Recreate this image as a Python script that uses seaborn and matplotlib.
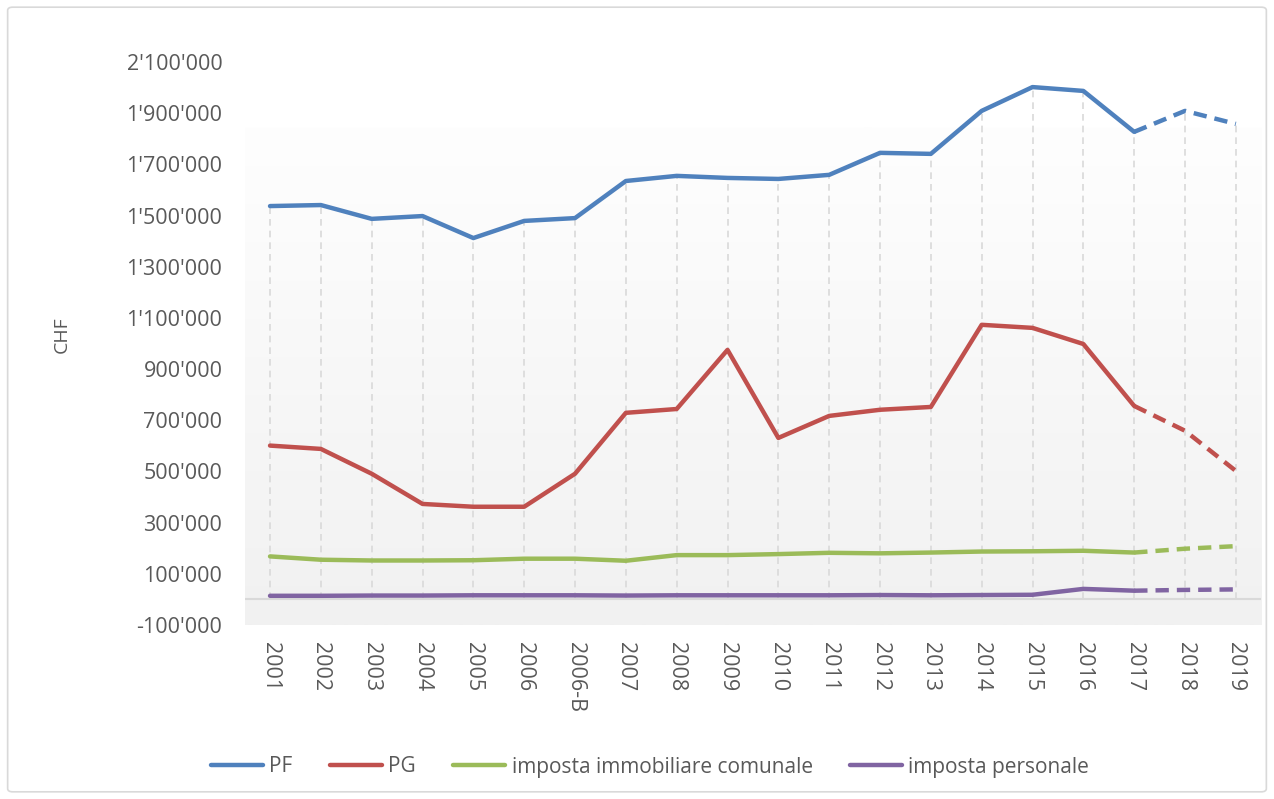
import numpy as np
import pandas as pd
import matplotlib
matplotlib.use('Agg')
import matplotlib.pyplot as plt
import seaborn as sns
from matplotlib.colors import LinearSegmentedColormap
from matplotlib.lines import Line2D
from matplotlib.patches import FancyBboxPatch

# Dati (CHF)
anni = ['2001', '2002', '2003', '2004', '2005', '2006', '2006-B', '2007', '2008', '2009',
        '2010', '2011', '2012', '2013', '2014', '2015', '2016', '2017', '2018', '2019']
pf = [1537000, 1541000, 1487000, 1498000, 1412000, 1479000, 1490000, 1635000, 1655000, 1647000,
      1643000, 1659000, 1745000, 1741000, 1909000, 2002000, 1987000, 1827000, 1909000, 1858000]
pg = [601000, 588000, 491000, 373000, 362000, 362000, 491000, 729000, 744000, 975000,
      631000, 717000, 741000, 752000, 1073000, 1061000, 998000, 756000, 659000, 502000]
imm_comunale = [168000, 155000, 152000, 152000, 153000, 159000, 159000, 151000, 173000, 173000,
                177000, 182000, 180000, 183000, 187000, 188000, 190000, 183000, 198000, 208000]
imp_personale = [14000, 14000, 15000, 15000, 16000, 16000, 16000, 15000, 16000, 16000,
                 16000, 16000, 17000, 16000, 17000, 18000, 41000, 34000, 37000, 39000]

serie = ['PF', 'PG', 'imposta immobiliare comunale', 'imposta personale']
colori = ['#4F81BD', '#C0504D', '#9BBB59', '#8064A2']
ultimo_consuntivo = anni.index('2017')

sns.set_style('white')
plt.rcParams['font.family'] = ['Open Sans', 'DejaVu Sans']

df = pd.DataFrame({'x': np.arange(len(anni)), 'PF': pf, 'PG': pg,
                   'imposta immobiliare comunale': imm_comunale,
                   'imposta personale': imp_personale})

fig = plt.figure(figsize=(12.74, 7.99), dpi=100)
ax = fig.add_axes([0.192, 0.2178, 0.798, 0.7046])

# sfondo a gradiente (area del grafico)
cmap = LinearSegmentedColormap.from_list('grad', ['#fefefe', '#f1f1f1'])
ax.imshow(np.linspace(0, 1, 256).reshape(-1, 1), cmap=cmap, aspect='auto',
          extent=(-0.5, len(anni) - 0.5, -100000, 1846000), zorder=0)

# linee di proiezione
ax.vlines(df['x'], 0, df[['PF', 'PG']].max(axis=1), colors='#d9d9d9',
          linestyles=(0, (4, 3)), linewidth=1.2, zorder=1)
ax.axhline(0, color='#d9d9d9', linewidth=1.5, zorder=1)

for nome, col in zip(serie, colori):
    sol = df.iloc[:ultimo_consuntivo + 1]
    pre = df.iloc[ultimo_consuntivo:]
    sns.lineplot(data=sol, x='x', y=nome, color=col, linewidth=3.2, ax=ax, zorder=3)
    sns.lineplot(data=pre, x='x', y=nome, color=col, linewidth=3.2, ax=ax, zorder=3,
                 linestyle=(0, (3, 1.8)))

ax.set_xlim(-0.5, len(anni) - 0.5)
ax.set_ylim(-100000, 2100000)
yt = np.arange(-100000, 2100001, 200000)
ax.set_yticks(yt)
ax.set_yticklabels([f'{v:,.0f}'.replace(',', "'") for v in yt])
ax.set_xticks(df['x'])
ax.set_xticklabels(anni, rotation=270, va='top', ha='center')
ax.tick_params(axis='y', length=0, pad=16, labelsize=15.5, labelcolor='#595959')
ax.tick_params(axis='x', length=0, pad=12, labelsize=15.5, labelcolor='#595959')
ax.set_xlabel('')
ax.set_ylabel('')
for s in ax.spines.values():
    s.set_visible(False)

fig.text(62 / 1274, 1 - 335 / 799, 'CHF', rotation=90, ha='center', va='center',
         fontsize=14, color='#595959')

handles = [Line2D([0], [0], color=c, linewidth=3.2) for c in colori]
fig.legend(handles, serie, loc='center', bbox_to_anchor=(650 / 1274, 1 - 767 / 799),
           ncol=4, frameon=False, fontsize=15, handlelength=2.5, handletextpad=0.3,
           columnspacing=1.8, labelcolor='#595959')

# bordo del grafico
fig.patches.append(FancyBboxPatch((0.006, 0.009), 0.988, 0.982, boxstyle='round,pad=0,rounding_size=0.004',
                                  transform=fig.transFigure, facecolor='none',
                                  edgecolor='#d9d9d9', linewidth=1.2))

fig.savefig('out.png', dpi=100)
